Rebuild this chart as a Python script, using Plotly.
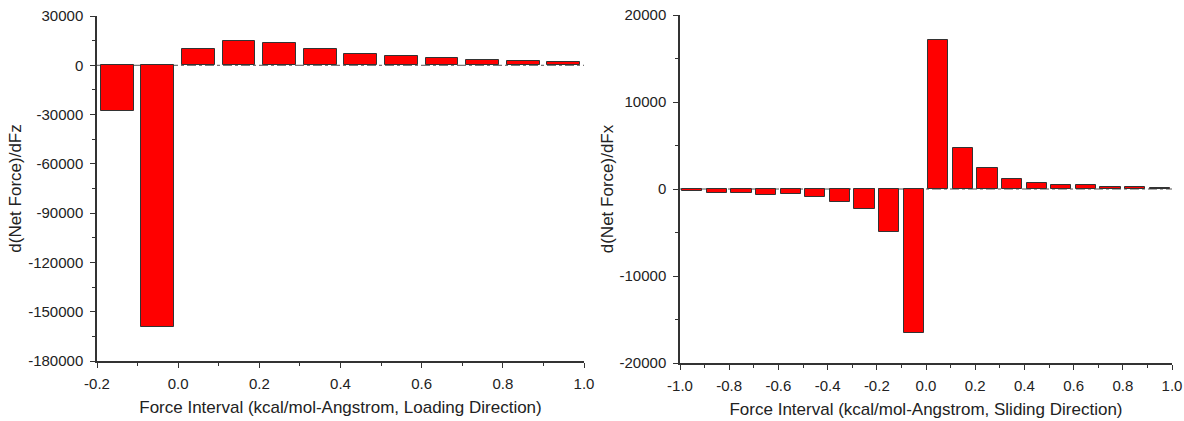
import plotly.graph_objects as go

# ---------------- data ----------------
load_x = [-0.15, -0.05, 0.05, 0.15, 0.25, 0.35, 0.45, 0.55, 0.65, 0.75, 0.85, 0.95]
load_y = [-28000, -159000, 10200, 14800, 13300, 10200, 6900, 5800, 4200, 3100, 2900, 1900]

slide_x = [-0.95, -0.85, -0.75, -0.65, -0.55, -0.45, -0.35, -0.25, -0.15, -0.05,
           0.05, 0.15, 0.25, 0.35, 0.45, 0.55, 0.65, 0.75, 0.85, 0.95]
slide_y = [-270, -470, -470, -660, -590, -940, -1480, -2340, -4960, -16550,
           17070, 4760, 2440, 1100, 720, 420, 420, 230, 230, 110]

load_yticks = [30000, 0, -30000, -60000, -90000, -120000, -150000, -180000]
load_xticks = [-0.2, 0.0, 0.2, 0.4, 0.6, 0.8, 1.0]
slide_yticks = [20000, 10000, 0, -10000, -20000]
slide_xticks = [-1.0, -0.8, -0.6, -0.4, -0.2, 0.0, 0.2, 0.4, 0.6, 0.8, 1.0]

load_xtitle = "Force Interval (kcal/mol-Angstrom, Loading Direction)"
slide_xtitle = "Force Interval (kcal/mol-Angstrom, Sliding Direction)"
load_ytitle = "d(Net Force)/dFz"
slide_ytitle = "d(Net Force)/dFx"

# ---------------- styling ----------------
FONT = "Liberation Sans, Arial, sans-serif"
AX = "#333333"
TXT = "#222222"
W, H = 1184, 421
TICK_SIZE = 15
XTITLE_SIZE = 17
YTITLE_SIZE = 17


def ylab(v):
    return str(v)  # plain hyphen minus


def xlab(v):
    return f"{v:.1f}"


fig = go.Figure()
fig.add_trace(go.Bar(x=load_x, y=load_y, width=0.081, xaxis="x", yaxis="y",
                     marker=dict(color="#FF0000", line=dict(color="#333333", width=1))))
fig.add_trace(go.Bar(x=slide_x, y=slide_y, width=0.082, xaxis="x2", yaxis="y2",
                     marker=dict(color="#FF0000", line=dict(color="#333333", width=1))))

minor_style = dict(ticks="outside", ticklen=3, tickwidth=1.2, tickcolor=AX, showgrid=False)
common_axis = dict(
    showline=True, linecolor=AX, linewidth=1.5, mirror=False,
    showgrid=False, zeroline=False, automargin=False,
    ticks="outside", ticklen=5, tickwidth=1.2, tickcolor=AX,
    tickfont=dict(family=FONT, size=TICK_SIZE, color=TXT),
)

fig.update_layout(
    width=W, height=H, autosize=False,
    margin=dict(l=0, r=0, t=0, b=0, pad=0),
    paper_bgcolor="white", plot_bgcolor="white",
    showlegend=False, bargap=0,
    font=dict(family=FONT, color=TXT),
    xaxis=dict(common_axis, domain=[97 / W, 584 / W], anchor="y",
               range=[-0.2, 1.0], tickmode="array",
               tickvals=load_xticks, ticktext=[xlab(v) for v in load_xticks],
               minor=dict(minor_style, dtick=0.1, tick0=0), ticklabelstandoff=3,
               title=dict(text=load_xtitle, font=dict(family=FONT, size=XTITLE_SIZE, color=TXT), standoff=10)),
    yaxis=dict(common_axis, domain=[1 - 361 / H, 1 - 16 / H], anchor="x",
               range=[-180000, 30000], tickmode="array",
               tickvals=load_yticks, ticktext=[ylab(v) for v in load_yticks],
               minor=dict(minor_style, dtick=15000, tick0=0), ticklabelstandoff=4,
               title=dict(text=load_ytitle, font=dict(family=FONT, size=YTITLE_SIZE, color=TXT), standoff=2)),
    xaxis2=dict(common_axis, domain=[680 / W, 1172 / W], anchor="y2",
                range=[-1.0, 1.0], tickmode="array",
                tickvals=slide_xticks, ticktext=[xlab(v) for v in slide_xticks],
                minor=dict(minor_style, dtick=0.1, tick0=0), ticklabelstandoff=3,
                title=dict(text=slide_xtitle, font=dict(family=FONT, size=XTITLE_SIZE, color=TXT), standoff=10)),
    yaxis2=dict(common_axis, domain=[1 - 363 / H, 1 - 15 / H], anchor="x2",
                range=[-20000, 20000], tickmode="array",
                tickvals=slide_yticks, ticktext=[ylab(v) for v in slide_yticks],
                minor=dict(minor_style, dtick=5000, tick0=0), ticklabelstandoff=4,
                title=dict(text=slide_ytitle, font=dict(family=FONT, size=YTITLE_SIZE, color=TXT), standoff=2)),
)

# dash-dot zero lines
fig.add_shape(type="line", xref="x domain", yref="y", x0=0, x1=1, y0=0, y1=0,
              line=dict(color="#555555", width=1, dash="dashdot"), layer="below")
fig.add_shape(type="line", xref="x2 domain", yref="y2", x0=0, x1=1, y0=0, y1=0,
              line=dict(color="#555555", width=1, dash="dashdot"), layer="below")

fig.write_html("out.html")
